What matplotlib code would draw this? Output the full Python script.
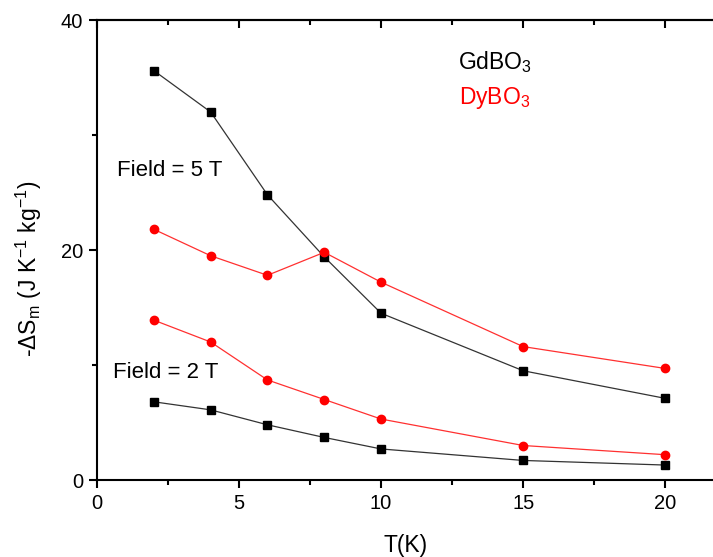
import matplotlib
matplotlib.use("Agg")
import matplotlib.pyplot as plt
from matplotlib.ticker import MultipleLocator

plt.rcParams['font.family'] = ['Liberation Sans', 'DejaVu Sans']
plt.rcParams['mathtext.fontset'] = 'custom'
plt.rcParams['mathtext.rm'] = 'Liberation Sans'
plt.rcParams['mathtext.it'] = 'Liberation Sans:italic'

T = [2, 4, 6, 8, 10, 15, 20]
gd_5T = [35.6, 32.0, 24.8, 19.4, 14.5, 9.5, 7.1]
dy_5T = [21.8, 19.5, 17.8, 19.8, 17.2, 11.6, 9.7]
dy_2T = [13.9, 12.0, 8.7, 7.0, 5.3, 3.0, 2.2]
gd_2T = [6.8, 6.1, 4.8, 3.7, 2.7, 1.7, 1.3]

W, H = 713, 557
fig = plt.figure(figsize=(W / 100, H / 100), dpi=100)
x0, x1, y0, y1 = 97, 722, 480, 20
ax = fig.add_axes([x0 / W, (H - y0) / H, (x1 - x0) / W, (y0 - y1) / H])

lw = 0.9
ax.plot(T, gd_5T, color='#333333', lw=lw, marker='s', ms=5.5, mfc='black', mec='black')
ax.plot(T, gd_2T, color='#333333', lw=lw, marker='s', ms=5.5, mfc='black', mec='black')
ax.plot(T, dy_5T, color='#ff3030', lw=lw, marker='o', ms=6, mfc='red', mec='red')
ax.plot(T, dy_2T, color='#ff3030', lw=lw, marker='o', ms=6, mfc='red', mec='red')

ax.set_xlim(0, 22)
ax.set_ylim(0, 40)
ax.xaxis.set_major_locator(MultipleLocator(5))
ax.xaxis.set_minor_locator(MultipleLocator(2.5))
ax.yaxis.set_major_locator(MultipleLocator(20))
ax.yaxis.set_minor_locator(MultipleLocator(10))

for s in ax.spines.values():
    s.set_linewidth(1.5)

ax.tick_params(which='major', direction='out', length=6, width=1.5, labelsize=14.5, pad=4)
ax.tick_params(which='minor', direction='out', length=3.5, width=1.5)

secx = ax.secondary_xaxis('top')
secx.xaxis.set_major_locator(MultipleLocator(5))
secx.xaxis.set_minor_locator(MultipleLocator(2.5))
secx.tick_params(which='major', direction='in', length=6, width=1.5, labeltop=False)
secx.tick_params(which='minor', direction='in', length=3.5, width=1.5)
secx.spines['top'].set_linewidth(1.5)

secy = ax.secondary_yaxis('right')
secy.yaxis.set_major_locator(MultipleLocator(20))
secy.yaxis.set_minor_locator(MultipleLocator(10))
secy.tick_params(which='major', direction='in', length=6, width=1.5, labelright=False)
secy.tick_params(which='minor', direction='in', length=3.5, width=1.5)

ax.set_xlabel('T(K)', fontsize=16.5)
ax.xaxis.set_label_coords(0.493, -0.118)
ax.set_ylabel(r'-ΔS$_\mathrm{m}$ (J K$^\mathrm{-1}$ kg$^\mathrm{-1}$)', fontsize=16.5)
ax.yaxis.set_label_coords(-0.085, 0.46)

def px(xp, yp):
    return ((xp - x0) / (x1 - x0), (y0 - yp) / (y0 - y1))

ax.text(*px(117, 170), 'Field = 5 T', transform=ax.transAxes, fontsize=16, va='center', ha='left')
ax.text(*px(113, 373), 'Field = 2 T', transform=ax.transAxes, fontsize=16, va='center', ha='left')
ax.text(*px(458, 62), r'GdBO$_\mathrm{3}$', transform=ax.transAxes, fontsize=16.5, va='center', ha='left', color='black')
ax.text(*px(459, 98), r'DyBO$_\mathrm{3}$', transform=ax.transAxes, fontsize=16.5, va='center', ha='left', color='red')

fig.savefig('out.png', dpi=100)
